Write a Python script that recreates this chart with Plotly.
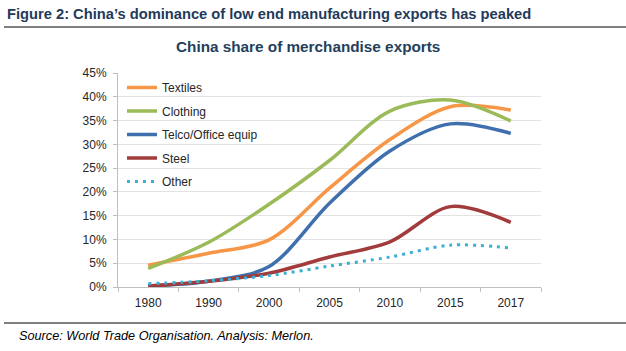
import plotly.graph_objects as go

years = ["1980", "1990", "2000", "2005", "2010", "2015", "2017"]
textiles = [4.6, 7.1, 9.9, 20.8, 31.0, 37.9, 37.2]
clothing = [3.9, 9.4, 17.4, 26.6, 37.0, 39.3, 34.9]
telco = [0.2, 1.2, 4.3, 17.6, 28.6, 34.3, 32.3]
steel = [0.2, 1.2, 2.9, 6.3, 9.5, 16.9, 13.6]
other = [0.7, 1.3, 2.4, 4.4, 6.3, 8.8, 8.2]

series = [
    ("Textiles", textiles, "#F79646", "solid"),
    ("Clothing", clothing, "#9BBB59", "solid"),
    ("Telco/Office equip", telco, "#3F6FAD", "solid"),
    ("Steel", steel, "#A23B3B", "solid"),
    ("Other", other, "#3AAFD4", "3px,5px"),
]

W, H = 626, 351
L, R, T, B = 118, 85, 73, 64
PW, PH = W - L - R, H - T - B


def px(x):
    return (x - L) / PW


def py(y):
    return (H - B - y) / PH


fig = go.Figure()
for i, (name, vals, color, dash) in enumerate(series):
    fig.add_trace(go.Scatter(
        x=years, y=[v / 100 for v in vals], name=name, mode="lines",
        line=dict(color=color, width=3.5 if dash == "solid" else 3, dash=dash,
                  shape="spline", smoothing=0.9),
        legendgroup=f"g{i}",
    ))

fig.update_layout(
    width=W, height=H,
    margin=dict(l=L, r=R, t=T, b=B),
    paper_bgcolor="white", plot_bgcolor="white",
    font=dict(family="Liberation Sans, Arial", size=12, color="#262626"),
    showlegend=True,
    legend=dict(x=px(122), y=py(73), xanchor="left", yanchor="top",
                bgcolor="rgba(0,0,0,0)", font=dict(size=12, color="#262626"),
                tracegroupgap=4.5, itemwidth=30),
    xaxis=dict(type="category", range=[-0.5, 6.5], showgrid=False,
               showline=True, linecolor="#BFBFBF", linewidth=1,
               ticks="outside", tickson="boundaries", ticklen=4, tickcolor="#BFBFBF",
               ticklabelstandoff=5,
               tickfont=dict(size=12, color="#262626")),
    yaxis=dict(range=[0, 0.45], dtick=0.05, tickformat=".0%",
               showgrid=True, gridcolor="#E3E3E3", gridwidth=1,
               showline=True, linecolor="#BFBFBF", linewidth=1,
               ticks="outside", ticklen=4, tickcolor="#BFBFBF",
               ticklabelstandoff=4,
               zeroline=False, tickfont=dict(size=12, color="#262626")),
)

fig.add_annotation(text="<b>Figure 2: China\u2019s dominance of low end manufacturing exports has peaked</b>",
                   xref="paper", yref="paper", x=px(5), y=py(14), xanchor="left", yanchor="middle",
                   showarrow=False,
                   font=dict(family="Liberation Sans, Arial", size=14.7, color="#1F3A5A"))
fig.add_annotation(text="<b>China share of merchandise exports</b>",
                   xref="paper", yref="paper", x=px(308), y=py(46), xanchor="center", yanchor="middle",
                   showarrow=False,
                   font=dict(family="Liberation Sans, Arial", size=15.3, color="#243F5C"))
fig.add_annotation(text="<i>Source: World Trade Organisation. Analysis: Merlon.</i>",
                   xref="paper", yref="paper", x=px(17), y=py(336), xanchor="left", yanchor="middle",
                   showarrow=False,
                   font=dict(family="Liberation Sans, Arial", size=12.7, color="#000000"))

for yy in (27, 323):
    fig.add_shape(type="line", xref="paper", yref="paper", x0=px(4), x1=px(626), y0=py(yy), y1=py(yy),
                  line=dict(color="#000000", width=1))

fig.write_html("out.html")
